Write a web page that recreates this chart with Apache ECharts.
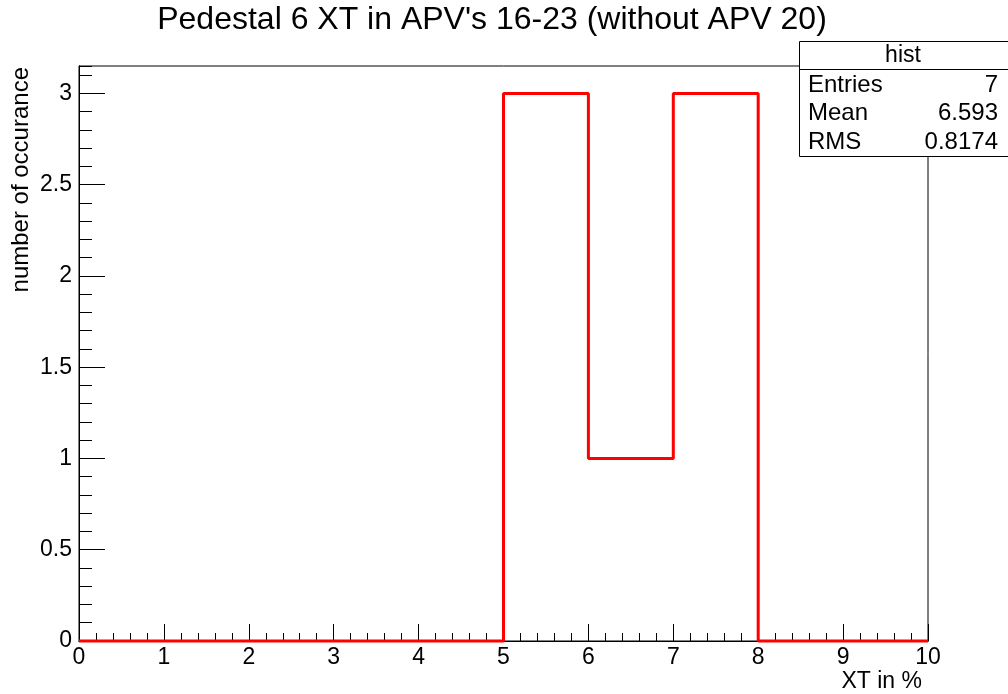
<!DOCTYPE html>
<html>
<head>
<meta charset="utf-8">
<script src="https://cdn.jsdelivr.net/npm/echarts@6/dist/echarts.min.js"></script>
<style>html,body{margin:0;padding:0;background:#fff}#c{width:1008px;height:694px}</style>
</head>
<body>
<div id="c"></div>
<script>
const titleText = "Pedestal 6 XT in APV's 16-23 (without APV 20)";
const xTitle = "XT in %";
const yTitle = "number of occurance";
const binEdges = [0, 1, 2, 3, 4, 5, 6, 7, 8, 9, 10];
const binCounts = [0, 0, 0, 0, 0, 3, 1, 3, 0, 0];
const statsNames = ["Entries", "Mean", "RMS"];
const statsValues = ["7", "6.593", "0.8174"];
const statsTitle = "hist";

const FONT = "Liberation Sans, Arial, Helvetica, sans-serif";
const histData = binEdges.map((e, i) => [e, i < binCounts.length ? binCounts[i] : binCounts[binCounts.length - 1]]);

const chart = echarts.init(document.getElementById('c'), null, {renderer: 'canvas'});
const axisCommon = {
  type: 'value', min: 0,
  axisLine: {show: true, lineStyle: {color: '#000', width: 1}},
  splitLine: {show: false}
};
const statsGraphics = [];
statsGraphics.push({type: 'rect', z: 100, shape: {x: 799.5, y: 41.5, width: 220, height: 115}, style: {fill: '#fff', stroke: '#000', lineWidth: 1}});
statsGraphics.push({type: 'line', z: 101, shape: {x1: 799.5, y1: 69.5, x2: 1010, y2: 69.5}, style: {stroke: '#000', lineWidth: 1}});
statsGraphics.push({type: 'text', z: 102, x: 903, y: 56, style: {text: statsTitle, font: '23px ' + FONT, fill: '#000', align: 'center', verticalAlign: 'middle'}});
statsNames.forEach((n, i) => {
  const y = 85 + i * 28.5;
  statsGraphics.push({type: 'text', z: 102, x: 808, y: y, style: {text: n, font: '24px ' + FONT, fill: '#000', align: 'left', verticalAlign: 'middle'}});
  statsGraphics.push({type: 'text', z: 102, x: 998, y: y, style: {text: statsValues[i], font: '24px ' + FONT, fill: '#000', align: 'right', verticalAlign: 'middle'}});
});

chart.setOption({
  animation: false,
  backgroundColor: '#fff',
  grid: {left: 79, right: 80, top: 66, bottom: 53, show: true, borderColor: '#000', borderWidth: 1, backgroundColor: 'transparent'},
  xAxis: [
    Object.assign({}, axisCommon, {max: 10, interval: 1, position: 'bottom',
      axisTick: {show: true, inside: true, length: 17, lineStyle: {color: '#000', width: 1}},
      axisLabel: {show: true, margin: 5, fontFamily: FONT, fontSize: 23, color: '#000'}}),
    Object.assign({}, axisCommon, {max: 10, interval: 0.2, position: 'bottom', offset: 0,
      axisTick: {show: true, inside: true, length: 8, lineStyle: {color: '#000', width: 1}},
      axisLabel: {show: false}})
  ],
  yAxis: [
    Object.assign({}, axisCommon, {max: 3.15, interval: 0.5, position: 'left',
      axisTick: {show: true, inside: true, length: 26, lineStyle: {color: '#000', width: 1}},
      axisLabel: {show: true, margin: 7, fontFamily: FONT, fontSize: 23, color: '#000', showMaxLabel: false,
        formatter: v => (Math.abs(v * 2 - Math.round(v * 2)) < 1e-6 ? String(v) : '')}}),
    Object.assign({}, axisCommon, {max: 3.15, interval: 0.1, position: 'left', offset: 0,
      axisTick: {show: true, inside: true, length: 13, lineStyle: {color: '#000', width: 1}},
      axisLabel: {show: false}})
  ],
  series: [{
    type: 'line', xAxisIndex: 0, yAxisIndex: 0, step: 'end', data: histData,
    symbol: 'none', lineStyle: {color: '#ff0000', width: 3}, z: 5, clip: false
  }],
  graphic: [
    {type: 'text', x: 492, y: 20, style: {text: titleText, font: '32px ' + FONT, fill: '#000', align: 'center', verticalAlign: 'middle'}},
    {type: 'text', x: 922, y: 682, style: {text: xTitle, font: '23px ' + FONT, fill: '#000', align: 'right', verticalAlign: 'middle'}},
    {type: 'text', x: 21, y: 67, rotation: Math.PI / 2, style: {text: yTitle, font: '24px ' + FONT, fill: '#000', align: 'right', verticalAlign: 'middle'}}
  ].concat(statsGraphics)
});
</script>
</body>
</html>
